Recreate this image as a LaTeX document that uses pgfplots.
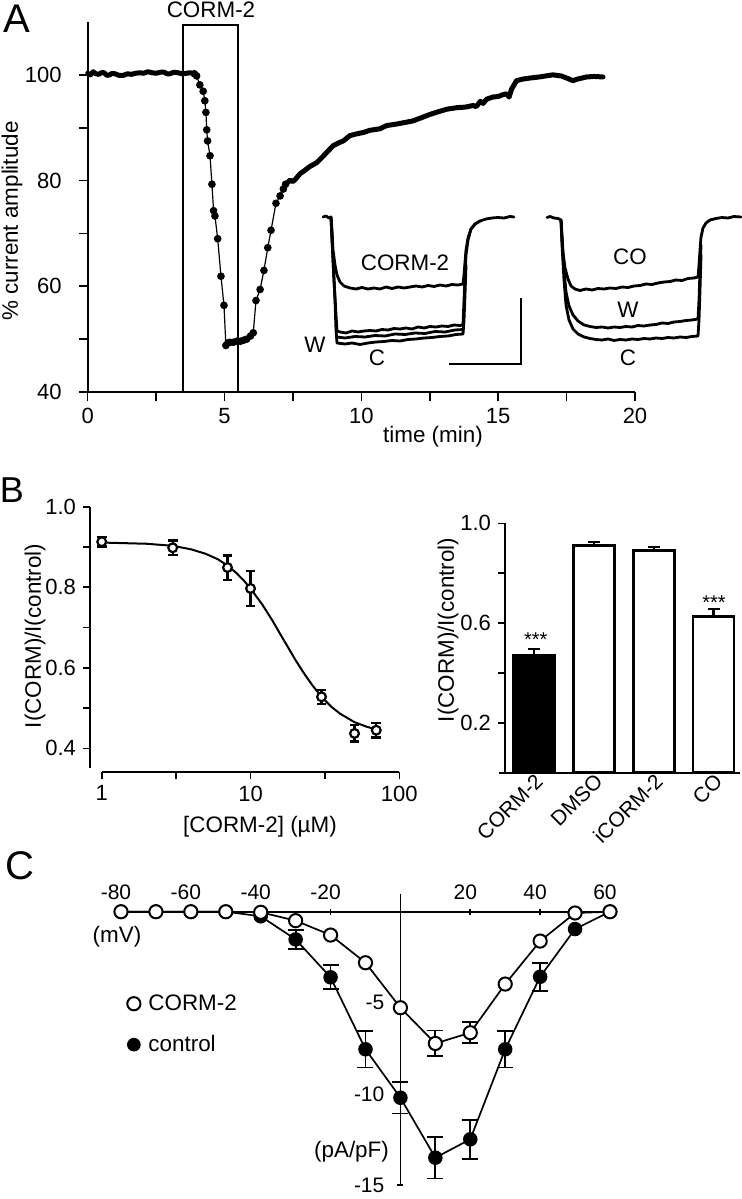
\documentclass[border=0pt]{standalone}
\usepackage{pgfplots}
\pgfplotsset{compat=1.18}
\usepackage{fontspec}
\setmainfont{Liberation Sans}
\newcommand{\tfs}{\fontsize{11}{13}\selectfont}
\newcommand{\cfs}{\fontsize{10.5}{12}\selectfont}
\newcommand{\lfs}{\fontsize{11.2}{13}\selectfont}
\pgfplotsset{
  base/.style={scale only axis, clip=false, anchor=south west,
    /pgf/number format/assume math mode=true,
    tick label style={font=\tfs},
    tick style={black, line width=0.8pt},
    axis line style={line width=0.9pt},
    every outer x axis line/.append style={-},
    every outer y axis line/.append style={-},
    every inner x axis line/.append style={-},
    every inner y axis line/.append style={-}},
}
\begin{document}
\begin{tikzpicture}
\useasboundingbox (0,0) rectangle (371pt,-599.5pt);

%================ Panel A =================
\begin{axis}[base, at={(43.85pt,-196pt)}, width=273.65pt, height=185pt,
  xmin=0, xmax=20, ymin=40, ymax=110,
  axis x line*=bottom, axis y line*=left,
  x axis line style={-}, y axis line style={-},
  xtick={0,5,10,15,20}, minor xtick={2.5,7.5,12.5,17.5},
  ytick={40,60,80,100}, minor ytick={50,70,90},
  tick align=outside, major tick length=4.5pt, minor tick length=4.5pt,
  yticklabel style={xshift=-5pt}]
% CORM-2 application box
\addplot[black, line width=0.9pt] coordinates {(3.48,40) (3.48,109.4) (5.48,109.4) (5.48,40)};
% baseline (dense)
\addplot[black, line width=2.5pt, line join=round, line cap=round] coordinates {
(0,100.3) (0.1,100.0) (0.2,100.6) (0.3,100.2) (0.4,100.1) (0.5,100.4) (0.6,100.4) (0.7,99.9) (0.8,100.0)
(0.9,100.3) (1.0,100.2) (1.15,99.9) (1.3,99.9) (1.45,100.2) (1.6,100.1) (1.75,100.3) (1.9,100.4) (2.05,100.3)
(2.2,100.6) (2.35,100.4) (2.5,100.3) (2.65,100.5) (2.8,100.5) (2.9,100.2) (3.0,100.2) (3.15,100.5) (3.3,100.4)
(3.45,100.2) (3.6,100.3) (3.75,100.4) (3.9,100.2)};
% sparse sampled points
\addplot[black, line width=0.6pt, mark=*, mark size=1.6pt] coordinates {
(3.90,100.2) (3.98,99.8) (4.10,98.1) (4.22,96.9) (4.28,95.1) (4.32,92.9) (4.35,89.6) (4.38,87.5) (4.47,84.7)
(4.54,79.3) (4.60,74.3) (4.65,73.3) (4.75,69.0) (4.87,61.9) (4.98,56.4) (5.05,48.8) (5.12,49.3) (5.20,49.4)
(5.32,49.4) (5.45,49.6) (5.58,49.6) (5.70,49.8) (5.81,50.0) (5.95,50.6) (6.05,51.2) (6.15,57.3) (6.30,59.4)
(6.44,63.0) (6.58,67.3) (6.70,70.6) (6.88,75.7) (7.03,77.1) (7.15,78.4) (7.23,79.3)};
% recovery (dense)
\addplot[black, line width=2.5pt, line join=round, line cap=round] coordinates {
(7.23,79.3) (7.3,79.6) (7.4,80.1) (7.5,79.8) (7.6,80.3) (7.76,81.3) (7.9,81.8) (8.1,82.6) (8.37,83.4)
(8.6,84.6) (8.73,85.3) (8.97,86.6) (9.2,87.2) (9.34,87.5) (9.58,88.5) (9.8,88.8) (10.07,89.1) (10.3,89.5)
(10.68,89.8) (10.92,90.4) (11.29,90.7) (11.6,91.0) (11.89,91.3) (12.2,91.9) (12.5,92.5) (12.8,93.0) (13.12,93.5)
(13.5,93.8) (13.8,93.9) (14.08,94.2) (14.2,94.0) (14.35,95.0) (14.45,94.6) (14.58,95.4) (14.8,95.8) (15.0,95.9)
(15.2,96.3) (15.31,96.4) (15.40,95.8) (15.49,97.3) (15.67,98.9) (15.9,99.2) (16.16,99.4) (16.5,99.6) (17.0,100.0)
(17.3,99.8) (17.55,99.3) (17.73,98.9) (17.9,99.2) (18.23,99.6) (18.5,99.7) (18.83,99.6)};
\end{axis}

%================ Overlay (insets, pixel coordinates) =================
\begin{axis}[scale only axis, clip=false, anchor=south west, at={(0pt,-599.5pt)}, width=371pt, height=599.5pt,
  xmin=0, xmax=742, ymin=-1199, ymax=0, hide axis]
\pgfplotsset{trace/.style={black, line width=1.4pt, line join=round, line cap=round}}
% left inset
\addplot[trace] coordinates {(323,-217) (326,-216) (329,-218) (331,-217) (332,-230) (333,-250) (335,-265) (337,-275) (340,-282) (344,-286) (350,-288) (356,-289) (362,-287.5) (368,-289) (374,-288) (380,-289) (386,-287) (392,-288.5) (398,-287) (404,-288) (410,-287) (416,-286) (422,-287) (428,-285.5) (434,-286.5) (440,-285) (446,-286) (452,-284.5) (458,-285) (463,-284) (464,-275) (465,-262) (466,-250) (468,-238) (471,-229) (475,-224) (480,-221) (486,-219) (492,-218) (498,-217.5) (504,-218) (510,-216.5) (514,-217)};
\addplot[trace] coordinates {(331,-217) (332,-240) (334,-280) (336,-315) (337,-331) (340,-332) (346,-333) (352,-331) (358,-332) (364,-331) (370,-330.5) (376,-331) (382,-329.5) (388,-330) (394,-328.5) (400,-329) (406,-328) (412,-329) (418,-327) (424,-328) (430,-326.5) (436,-327) (442,-326) (448,-326.5) (454,-325) (460,-325.5) (463,-325) (464,-300) (465,-275) (466,-255) (468,-240) (471,-229) (475,-224) (480,-221)};
\addplot[trace] coordinates {(337,-337) (345,-338) (355,-336.5) (365,-337) (375,-335.5) (385,-336) (395,-334) (405,-334.5) (415,-333) (425,-333.5) (435,-331.5) (445,-332) (455,-330) (463,-329.5)};
\addplot[trace] coordinates {(331,-217) (333,-260) (335,-300) (336,-330) (337,-343) (345,-344) (352,-343) (360,-344.5) (368,-343) (376,-342) (384,-341.5) (392,-340.5) (400,-341) (408,-339.5) (416,-339) (424,-338) (432,-337.5) (440,-336.5) (448,-336) (456,-334.5) (463,-334) (464,-320) (465,-295) (466,-265)};
% scale bar
\addplot[black, line width=0.9pt] coordinates {(449.3,-364) (520.7,-364) (520.7,-298.3)};
% right inset
\addplot[trace] coordinates {(547,-217.5) (550,-216.5) (554,-218) (558,-218.5) (561,-220) (562,-235) (563,-252) (565,-268) (568,-279) (571,-286) (575,-289) (580,-290.5) (586,-289) (592,-290) (598,-288.5) (604,-289) (610,-288) (616,-288.5) (622,-287) (628,-287.5) (634,-286) (640,-285.5) (646,-284) (652,-284.5) (658,-283) (664,-282) (670,-281.5) (676,-280) (682,-280.5) (688,-278.5) (694,-278) (698,-277) (699,-265) (700,-250) (701,-237) (703,-228) (706,-223) (710,-220) (716,-218.5) (722,-217.5) (728,-218) (734,-216.5) (741,-217)};
\addplot[trace] coordinates {(561,-220) (562,-240) (564,-270) (566,-292) (569,-306) (573,-315) (578,-321) (584,-325) (590,-326.5) (596,-327.5) (602,-327) (608,-328) (614,-327) (620,-327.5) (626,-326.5) (632,-327) (638,-325.5) (644,-326) (650,-325) (656,-324.5) (662,-323) (668,-323.5) (674,-322) (680,-321.5) (686,-320.5) (692,-320) (698,-319) (699,-300) (700,-270) (701,-245)};
\addplot[trace] coordinates {(561,-220) (562,-245) (564,-280) (566,-305) (569,-320) (573,-329) (578,-334) (584,-337) (590,-338.5) (596,-339.5) (602,-340) (608,-339) (614,-340.5) (620,-339.5) (626,-340) (632,-339) (638,-339.5) (644,-338.5) (650,-339) (656,-338) (662,-338.5) (668,-337.5) (674,-338) (680,-337) (686,-337.5) (692,-336.5) (698,-336) (699,-320) (700,-290) (701,-255)};
\end{axis}

%================ Panel B left =================
\begin{axis}[base, at={(45pt,-385.85pt)}, width=154.65pt, height=132.5pt,
  xmode=log, xmin=0.834, xmax=100, ymin=0.342, ymax=1.0,
  axis x line*=bottom, axis y line*=left, separate axis lines,
  x axis line style={-, shorten <=5.85pt}, y axis line style={-, shorten <=1.7pt},
  xtick={1,10,100}, xticklabels={1,10,100}, minor xtick={3.1623,31.623},
  ytick={0.4,0.6,0.8,1.0}, yticklabels={0.4,0.6,0.8,1.0}, minor ytick={0.5,0.7,0.9},
  tick align=outside, major tick length=3.5pt, minor tick length=3.5pt]
\addplot[black, line width=1pt] coordinates {
(1,0.911) (2,0.908) (3,0.903) (4,0.894) (5,0.883) (6,0.870) (7,0.854) (8,0.836) (9,0.817) (10,0.797)
(12,0.757) (14,0.718) (16,0.681) (18,0.649) (20,0.620) (23,0.585) (26,0.557) (30,0.528) (35,0.503)
(40,0.486) (50,0.465) (60,0.454) (70,0.447)};
\addplot[black, only marks, mark=*, mark size=2.2pt, mark options={fill=white, draw=black, line width=1.1pt},
  error bars/.cd, y dir=both, y explicit, error bar style={line width=1.1pt, black},
  error mark options={rotate=90, mark size=2.4pt, line width=1.1pt, black}]
  coordinates {
  (1,0.913) +- (0,0.012)
  (3,0.898) +- (0,0.018)
  (7,0.849) +- (0,0.030)
  (10,0.797) +- (0,0.043)
  (30,0.528) +- (0,0.017)
  (50,0.437) +- (0,0.020)
  (70,0.445) +- (0,0.018)};
\end{axis}

%================ Panel B right =================
\begin{axis}[base, at={(252.5pt,-386.35pt)}, width=117.5pt, height=124.7pt,
  xmin=-0.488, xmax=3.44, ymin=0, ymax=1,
  axis x line*=bottom, axis y line*=left, separate axis lines,
  x axis line style={-, shorten <=-2.85pt}, y axis line style={-},
  xtick={0,1,2,3}, xticklabels={CORM-2,DMSO,iCORM-2,CO},
  x tick style={draw=none}, xticklabel style={rotate=45, anchor=east, xshift=6pt, yshift=-1pt, font=\cfs},
  ytick={0.2,0.6,1.0}, yticklabels={0.2,0.6,1.0}, minor ytick={0.4,0.8},
  tick align=outside, major tick length=3.5pt, minor tick length=3.5pt]
\addplot[ybar, bar width=20.5pt, bar shift=0pt, fill=black, draw=black, line width=1.3pt,
  error bars/.cd, y dir=plus, y explicit, error bar style={line width=1.2pt, black},
  error mark options={rotate=90, mark size=3pt, line width=1.2pt, black}]
  coordinates {(0,0.470) +- (0,0.027)};
\addplot[ybar, bar width=20.5pt, bar shift=0pt, fill=white, draw=black, line width=1.3pt,
  error bars/.cd, y dir=plus, y explicit, error bar style={line width=1.2pt, black},
  error mark options={rotate=90, mark size=3pt, line width=1.2pt, black}]
  coordinates {(1,0.912) +- (0,0.013) (2,0.892) +- (0,0.013) (3,0.627) +- (0,0.029)};
\end{axis}

%================ Panel C =================
\begin{axis}[base, at={(60.5pt,-592.5pt)}, width=244.5pt, height=145.75pt,
  xmin=-80, xmax=60, ymin=-15, ymax=1,
  axis x line=middle, axis y line=middle,
  axis line style={-, line width=0.9pt},
  tick label style={font=\cfs},
  xtick={-80,-60,-40,-20,20,40,60}, xticklabels={-80,-60,-40,-20,20,40,60},
  xticklabel style={anchor=south, yshift=4pt, xshift=-2.5pt},
  ytick={-15,-10,-5}, yticklabels={-15,-10,-5},
  yticklabel style={xshift=-3pt},
  major tick length=3pt,
  legend style={at={(0.012,0.669)}, anchor=north west, draw=none, fill=none, font=\lfs,
    row sep=7pt, inner sep=0pt, column sep=2pt},
  legend cell align=left,
  legend image code/.code={\draw[#1] plot coordinates {(0pt,0pt)};}]
% error bars (drawn first)
\addplot[forget plot, only marks, mark=none,
  error bars/.cd, y dir=both, y explicit, error bar style={line width=0.9pt, black},
  error mark options={rotate=90, mark size=4pt, line width=0.9pt, black}]
  coordinates {(-30,-1.52) +- (0,0.52) (-20,-3.60) +- (0,0.66) (-10,-7.55) +- (0,1.0) (0,-10.21) +- (0,0.87)
  (10,-13.50) +- (0,1.14) (20,-12.49) +- (0,1.08) (30,-7.55) +- (0,1.0) (40,-3.57) +- (0,0.76)};
\addplot[forget plot, only marks, mark=none,
  error bars/.cd, y dir=both, y explicit, error bar style={line width=0.9pt, black},
  error mark options={rotate=90, mark size=4pt, line width=0.9pt, black}]
  coordinates {(10,-7.23) +- (0,0.71) (20,-6.64) +- (0,0.57)};
% control
\addplot[forget plot, black, line width=0.85pt, mark=*, mark size=3.2pt, mark options={fill=black}]
  coordinates {(-80,0) (-70,0) (-60,0) (-50,0) (-40,-0.25) (-30,-1.52) (-20,-3.60) (-10,-7.55) (0,-10.21)
  (10,-13.50) (20,-12.49) (30,-7.55) (40,-3.57) (50,-0.95) (60,0)};
% CORM-2
\addplot[forget plot, black, line width=0.85pt, mark=*, mark size=3.3pt, mark options={fill=white, draw=black, line width=1pt}]
  coordinates {(-80,0) (-70,0) (-60,0) (-50,0) (-40,-0.03) (-30,-0.49) (-20,-1.28) (-10,-2.80) (0,-5.27)
  (10,-7.23) (20,-6.64) (30,-3.97) (40,-1.61) (50,-0.07) (60,0)};
\addlegendimage{only marks, mark=*, mark size=3.3pt, mark options={fill=white, draw=black, line width=1pt}}
\addlegendentry{CORM-2}
\addlegendimage{only marks, mark=*, mark size=3.2pt, mark options={fill=black, draw=black}}
\addlegendentry{control}
\end{axis}

%================ Text =================
\begin{scope}[x=0.5pt, y=-0.5pt]
\node[font=\fontsize{20}{24}\selectfont] at (17,19) {A};
\node[font=\lfs] at (211,10) {CORM-2};
\node[font=\lfs, rotate=90] at (12,221) {\% current amplitude};
\node[font=\lfs] at (433,437) {time (min)};
\node[font=\lfs] at (405,263) {CORM-2};
\node[font=\lfs] at (315,345) {W};
\node[font=\lfs] at (377,358) {C};
\node[font=\lfs] at (630,257) {CO};
\node[font=\lfs] at (628,310) {W};
\node[font=\lfs] at (628,358) {C};
\node[font=\fontsize{18}{22}\selectfont] at (12,490) {B};
\node[font=\lfs, rotate=90] at (35,636) {I(CORM)/I(control)};
\node[font=\lfs] at (260,827) {[CORM-2] (µM)};
\node[font=\lfs, rotate=90] at (448,630) {I(CORM)/I(control)};
\node[font=\fontsize{10}{12}\selectfont] at (535.7,640) {***};
\node[font=\fontsize{10}{12}\selectfont] at (714,602.5) {***};
\node[font=\fontsize{20}{24}\selectfont] at (20,866) {C};
\node[font=\lfs] at (117,937) {(mV)};
\node[font=\lfs] at (351.5,1152) {(pA/pF)};
\end{scope}
\end{tikzpicture}
\end{document}
